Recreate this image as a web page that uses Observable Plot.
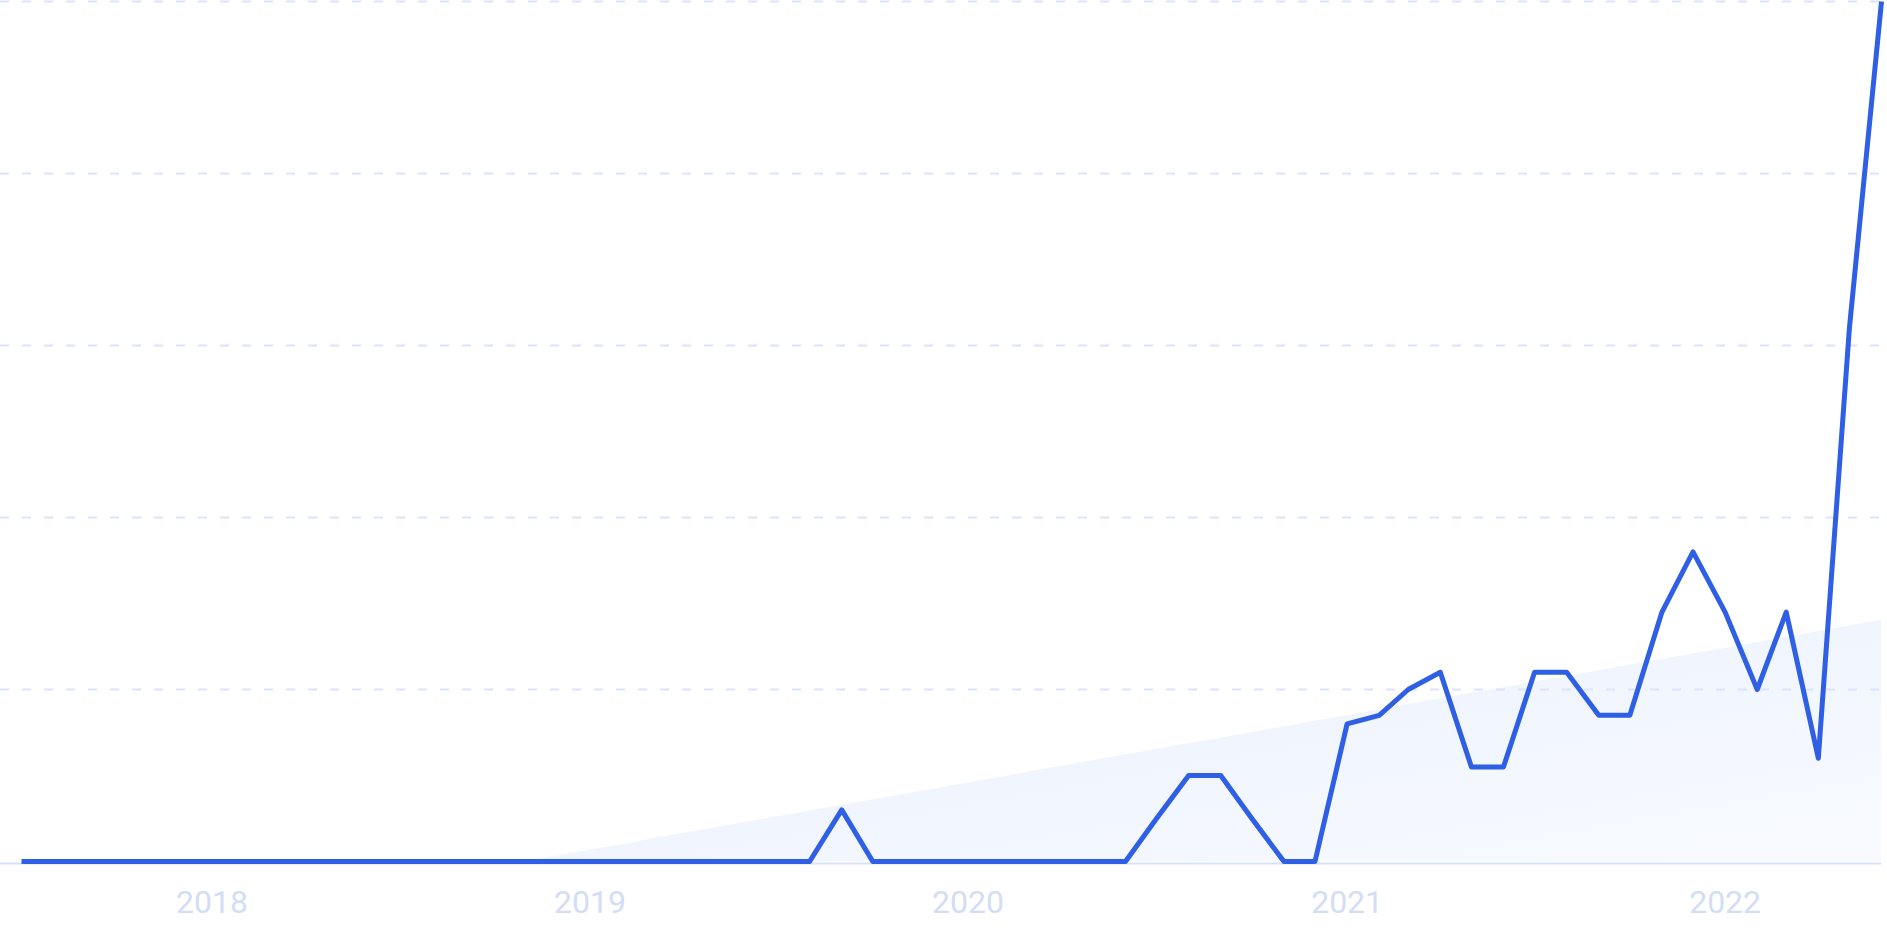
<!DOCTYPE html>
<html>
<head>
<meta charset="utf-8">
<script src="https://cdn.jsdelivr.net/npm/d3@7"></script>
<script src="https://cdn.jsdelivr.net/npm/@observablehq/plot@0.6"></script>
<style>
  html, body { margin: 0; padding: 0; background: #ffffff; overflow: hidden; }
  #chart svg { display: block; }
</style>
</head>
<body>
<div id="chart"></div>
<script>
// ---- data (monthly, Jul 2017 – Jun 2022) ----
const startMonth = "2017-07-01";
const endMonth = "2022-06-01";
const values = [
  0, 0, 0, 0, 0, 0,            // 2017 Jul–Dec
  0, 0, 0, 0, 0, 0, 0, 0, 0, 0, 0, 0,   // 2018
  0, 0, 0, 0, 0, 0, 0, 0, 6, 0, 0, 0,   // 2019
  0, 0, 0, 0, 0, 0, 5, 10, 10, 5, 0, 0, // 2020
  16, 17, 20, 22, 11, 11, 22, 22, 17, 17, 29, 36, // 2021
  29, 20, 29, 12, 62, 100      // 2022 Jan–Jun
];
const yearTicks = ["2018", "2019", "2020", "2021", "2022"];
const gridValues = [20, 40, 60, 80, 100];

// ---- derived tables ----
const months = d3.utcMonth.range(new Date(startMonth), d3.utcMonth.offset(new Date(endMonth), 1));
const data = months.map((d, i) => ({date: d, value: values[i]}));

// linear trend of the series (least squares over month index)
const idx = values.map((_, i) => i);
const mx = d3.mean(idx), my = d3.mean(values);
const slope = d3.sum(idx, i => (i - mx) * (values[i] - my)) / d3.sum(idx, i => (i - mx) ** 2);
const intercept = my - slope * mx;
const trend = data.map((d, i) => ({date: d.date, value: intercept + slope * i}));

const tickDates = yearTicks.map(y => new Date(y + "-01-01"));

const plot = Plot.plot({
  width: 1887,
  height: 943,
  marginTop: 1,
  marginBottom: 82,
  marginLeft: 0,
  marginRight: 6,
  style: {fontFamily: "Roboto, sans-serif", background: "#ffffff", overflow: "visible"},
  x: {type: "utc", domain: [months[0], months[months.length - 1]], insetLeft: 21},
  y: {domain: [0, 100], axis: null},
  marks: [
    Plot.areaY(trend, {x: "date", y1: 0, y2: "value", fill: "url(#trendFill)", clip: true}),
    Plot.ruleY(gridValues, {stroke: "#dbe4fb", strokeWidth: 2, strokeDasharray: "9,13"}),
    Plot.ruleY([0], {dy: 2, stroke: "#d6e1fb", strokeWidth: 2}),
    Plot.lineY(data, {x: "date", y: "value", stroke: "#2f5fe4", strokeWidth: 5, strokeLinecap: "butt", strokeLinejoin: "round"}),
    Plot.axisX({
      ticks: tickDates,
      tickFormat: d3.utcFormat("%Y"),
      tickSize: 0,
      tickPadding: 29,
      fontSize: 32,
      color: "#d3ddf5",
      label: null
    })
  ]
});

// gradient for the trend area
const defs = d3.select(plot).insert("defs", ":first-child");
const grad = defs.append("linearGradient")
  .attr("id", "trendFill")
  .attr("x1", "0").attr("y1", "0")
  .attr("x2", "1").attr("y2", "1");
grad.append("stop").attr("offset", "0%").attr("stop-color", "#e6eefc");
grad.append("stop").attr("offset", "100%").attr("stop-color", "#fbfcff");

document.getElementById("chart").appendChild(plot);
</script>
</body>
</html>
